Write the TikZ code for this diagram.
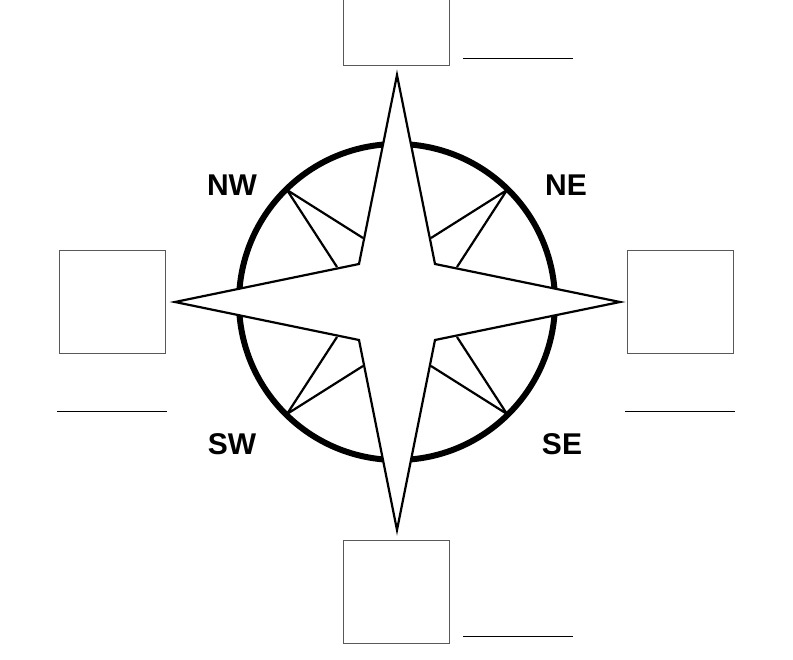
\documentclass[tikz,border=0pt]{standalone}
\usepackage{fontspec}
\setmainfont{Liberation Sans}
\usetikzlibrary{positioning}
\tikzset{
  answer/.style={draw, gray!70!black, line width=0.8pt, minimum width=106pt, minimum height=103pt, inner sep=0pt},
  blank/.style={line width=0.8pt},
  dirlabel/.style={font=\fontsize{30}{30}\selectfont\bfseries},
  ray/.style={line width=2.2pt}
}
\begin{document}
\begin{tikzpicture}[x=1pt,y=-1pt]
\useasboundingbox (0,0) rectangle (793,660);
% ring
\coordinate (c) at (397,302);
\draw[line width=6pt] (c) circle (158);
% star points
\coordinate (n) at (397,75);
\coordinate (s) at (397,530);
\coordinate (w) at (175,302);
\coordinate (e) at (620,302);
\coordinate (inw) at (359,264);
\coordinate (ine) at (435,264);
\coordinate (isw) at (359,340);
\coordinate (ise) at (435,340);
\filldraw[ray, fill=white, line join=miter]
  (n) -- (ine) -- (e) -- (ise) -- (s) -- (isw) -- (w) -- (inw) -- cycle;
% small wedges
\coordinate (rnw) at (287,190);
\coordinate (rne) at (507,190);
\coordinate (rsw) at (287,414);
\coordinate (rse) at (507,414);
\draw[ray] (rnw) -- (337,267) (rnw) -- (363,238);
\draw[ray] (rne) -- (457,267) (rne) -- (431,238);
\draw[ray] (rsw) -- (337,337) (rsw) -- (363,366);
\draw[ray] (rse) -- (457,337) (rse) -- (431,366);
% labels
\node[dirlabel] (lnw) at (232,185) {NW};
\node[dirlabel] (lne) at (566,185) {NE};
\node[dirlabel] (lsw) at (232,444) {SW};
\node[dirlabel] (lse) at (562,444) {SE};
% answer boxes
\node[answer] (bn) at (396,14) {};
\node[answer] (bs) at (396,592) {};
\node[answer] (bw) at (112,302) {};
\node[answer] (be) at (680,302) {};
% blanks
\draw[blank] (463,58) -- (573,58);
\draw[blank] (463,636) -- (573,636);
\draw[blank] (57,411) -- (167,411);
\draw[blank] (625,411) -- (735,411);
\end{tikzpicture}
\end{document}
